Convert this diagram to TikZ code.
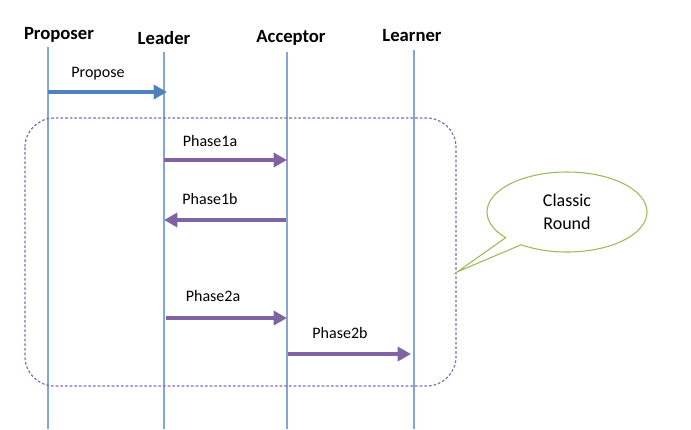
\documentclass[tikz,border=0pt]{standalone}
\usepackage{fontspec}
\setmainfont{Carlito}
\usetikzlibrary{arrows.meta,shapes.callouts,positioning}
\definecolor{lifeblue}{RGB}{79,129,189}
\definecolor{msgpurple}{RGB}{128,100,162}
\definecolor{roundpurple}{RGB}{135,105,175}
\definecolor{calloutgreen}{RGB}{155,187,89}

\begin{document}
\begin{tikzpicture}[
    x=0.75pt, y=-0.75pt,
    actor/.style={font=\fontsize{14}{16}\selectfont\bfseries, inner sep=0pt},
    lifeline/.style={draw=lifeblue!70, line width=0.8pt},
    msg/.style={draw=msgpurple, line width=3.4pt, -{Triangle[length=10pt,width=10.5pt]}},
    msgblue/.style={msg, draw=lifeblue, fill=lifeblue},
    msglabel/.style={font=\fontsize{12}{14}\selectfont, inner sep=0pt}
]
\useasboundingbox (0,0) rectangle (691,429);

% Actors
\node[actor] (proposer) at (59,35) {Proposer};
\node[actor] (leader) at (164,38) {Leader};
\node[actor] (acceptor) at (291,38) {Acceptor};
\node[actor] (learner) at (412,36) {Learner};

% Lifelines
\coordinate (proposertop) at (48,47);
\coordinate (proposerend) at (48,429);
\coordinate (leadertop) at (164,52);
\coordinate (leaderend) at (164,429);
\coordinate (acceptortop) at (287,52);
\coordinate (acceptorend) at (287,429);
\coordinate (learnertop) at (414,50);
\coordinate (learnerend) at (414,429);
\draw[lifeline] (proposertop) -- (proposerend);
\draw[lifeline] (leadertop) -- (leaderend);
\draw[lifeline] (acceptortop) -- (acceptorend);
\draw[lifeline] (learnertop) -- (learnerend);

% Classic round frame
\draw[roundpurple, line width=0.9pt, dash pattern=on 2pt off 1.5pt, rounded corners=22pt] (25,118) rectangle (456,386);

% Messages
\coordinate (p0) at (48,92);
\coordinate (l0) at (167,92);
\coordinate (l1) at (164,160);
\coordinate (a1) at (287,160);
\coordinate (a2) at (286,220);
\coordinate (l2) at (164,220);
\coordinate (l3) at (166,318);
\coordinate (a3) at (287,318);
\coordinate (a4) at (288,354);
\coordinate (r4) at (411,354);

\draw[msgblue] (p0) -- (l0);
\node[msglabel] (propose) at (98,74) {Propose};
\draw[msg, fill=msgpurple] (l1) -- (a1);
\node[msglabel] (phaseonea) at (210,141) {Phase1a};
\draw[msg, fill=msgpurple] (a2) -- (l2);
\node[msglabel] (phaseoneb) at (210,199) {Phase1b};
\draw[msg, fill=msgpurple] (l3) -- (a3);
\node[msglabel] (phasetwoa) at (213,296) {Phase2a};
\draw[msg, fill=msgpurple] (a4) -- (r4);
\node[msglabel] (phasetwob) at (340,333) {Phase2b};

% Callout
\node[ellipse callout, draw=calloutgreen, line width=0.8pt, fill=white,
      minimum width=120pt, minimum height=60pt, align=center,
      font=\fontsize{13.5}{17}\selectfont,
      callout absolute pointer={(457,272)}] (classic) at (567,212) {Classic\\Round};

\end{tikzpicture}
\end{document}
